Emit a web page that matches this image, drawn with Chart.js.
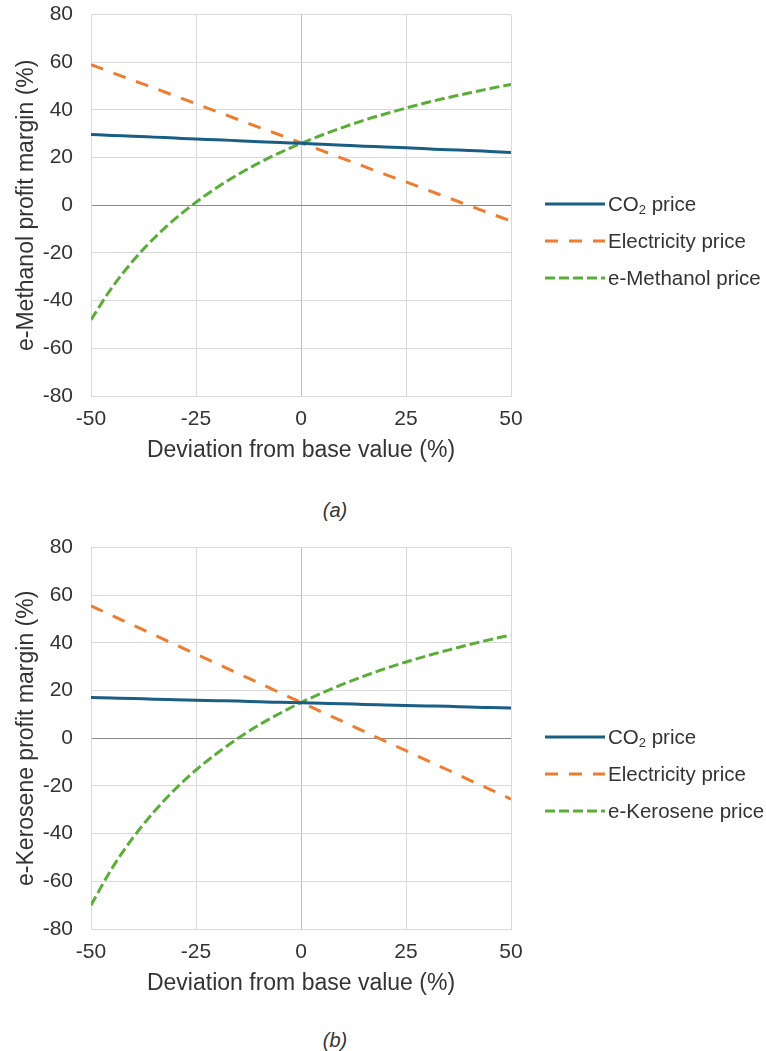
<!DOCTYPE html>
<html>
<head>
<meta charset="utf-8">
<script src="https://cdn.jsdelivr.net/npm/chart.js@4.4.1/dist/chart.umd.min.js"></script>
<style>
  body { margin: 0; background: #fff; font-family: "Liberation Sans", Arial, sans-serif; color: #333; }
  .panel { position: absolute; left: 0; width: 766px; height: 486px; }
  .panel canvas { position: absolute; left: 0; top: 0; }
  .legend .row { position: absolute; left: 545px; height: 24px; line-height: 24px; font-size: 20.5px; white-space: nowrap; }
  .legend svg { position: absolute; left: 0; top: 9px; }
  .legend span { position: absolute; left: 63px; top: 0; }
  .legend sub { font-size: 13px; vertical-align: -3px; line-height: 0; }
  .caption { position: absolute; left: 300px; width: 70px; text-align: center; font-size: 20px; font-style: italic; line-height: 24px; }
</style>
</head>
<body>

<div class="panel" style="top:-16px">
  <canvas id="chartA" width="766" height="486"></canvas>
  <div class="legend" id="legendA"></div>
</div>
<div class="caption" style="top:498px">(a)</div>

<div class="panel" style="top:517px">
  <canvas id="chartB" width="766" height="486"></canvas>
  <div class="legend" id="legendB"></div>
</div>
<div class="caption" style="top:1028px">(b)</div>

<script>
// deviation from base value (%)
const deviation = [-50, -45, -40, -35, -30, -25, -20, -15, -10, -5, 0, 5, 10, 15, 20, 25, 30, 35, 40, 45, 50];

// (a) e-Methanol profit margin (%)
const methanolCO2 = [29.7, 29.3, 29.0, 28.6, 28.2, 27.8, 27.5, 27.1, 26.7, 26.3, 26.0, 25.6, 25.2, 24.8, 24.5, 24.1, 23.7, 23.3, 23.0, 22.6, 22.2];
const methanolElectricity = [59.0, 55.7, 52.4, 49.2, 45.9, 42.6, 39.3, 36.0, 32.7, 29.5, 26.2, 22.9, 19.6, 16.3, 13.0, 9.8, 6.5, 3.2, -0.1, -3.4, -6.6];
const methanolPrice = [-48.0, -34.5, -23.3, -13.8, -5.7, 1.3, 7.5, 12.9, 17.8, 22.1, 26.0, 29.5, 32.7, 35.7, 38.3, 40.8, 43.1, 45.2, 47.1, 49.0, 50.7];

// (b) e-Kerosene profit margin (%)
const keroseneCO2 = [17.1, 16.9, 16.7, 16.4, 16.2, 16.0, 15.8, 15.6, 15.3, 15.1, 14.9, 14.7, 14.5, 14.2, 14.0, 13.8, 13.6, 13.4, 13.1, 12.9, 12.7];
const keroseneElectricity = [55.6, 51.5, 47.5, 43.4, 39.4, 35.3, 31.3, 27.2, 23.2, 19.1, 15.1, 11.0, 7.0, 2.9, -1.2, -5.2, -9.3, -13.3, -17.4, -21.4, -25.5];
const kerosenePrice = [-70.0, -54.5, -41.7, -30.8, -21.4, -13.3, -6.3, 0.0, 5.6, 10.5, 15.0, 19.0, 22.7, 26.1, 29.2, 32.0, 34.6, 37.0, 39.3, 41.4, 43.3];

const xTicks = [-50, -25, 0, 25, 50];
const yTicks = [-80, -60, -40, -20, 0, 20, 40, 60, 80];

const FONT = '"Liberation Sans", Arial, sans-serif';
const TEXT = '#333333';
const GRID = '#d9d9d9';

const seriesStyle = [
  { color: '#1b5e84', dash: [] },
  { color: '#ed7d31', dash: [13, 11] },
  { color: '#5aae38', dash: [10, 4] },
];
const legendY = [220, 257, 294];

function toPoints(values) {
  return values.map((v, i) => ({ x: deviation[i], y: v }));
}

function makeChart(id, yTitle, series) {
  const datasets = series.map((s, i) => ({
    label: s.label,
    data: toPoints(s.values),
    borderColor: seriesStyle[i].color,
    borderDash: seriesStyle[i].dash,
    borderWidth: 3,
    pointRadius: 0,
    fill: false,
    cubicInterpolationMode: 'monotone',
  }));

  return new Chart(document.getElementById(id), {
    type: 'line',
    data: { datasets },
    options: {
      responsive: false,
      animation: false,
      layout: { padding: { top: 0, left: 0, right: 255, bottom: 0 } },
      plugins: { legend: { display: false }, tooltip: { enabled: false } },
      scales: {
        x: {
          type: 'linear',
          min: xTicks[0],
          max: xTicks[xTicks.length - 1],
          afterBuildTicks: (scale) => { scale.ticks = xTicks.map(v => ({ value: v })); },
          afterFit: (scale) => { scale.height = 74; },
          ticks: { padding: 11, color: TEXT, font: { family: FONT, size: 21 } },
          grid: {
            drawTicks: false,
            color: (ctx) => (ctx.tick && ctx.tick.value === 0 ? '#bfbfbf' : GRID),
          },
          border: { color: GRID },
          title: {
            display: true,
            text: 'Deviation from base value (%)',
            color: TEXT,
            font: { family: FONT, size: 23 },
            padding: { top: 0, bottom: 6 },
          },
        },
        y: {
          min: yTicks[0],
          max: yTicks[yTicks.length - 1],
          afterBuildTicks: (scale) => { scale.ticks = yTicks.map(v => ({ value: v })); },
          afterFit: (scale) => { scale.width = 91; },
          ticks: { padding: 18, color: TEXT, font: { family: FONT, size: 21 } },
          grid: {
            drawTicks: false,
            color: (ctx) => (ctx.tick && ctx.tick.value === 0 ? '#8c8c8c' : GRID),
          },
          border: { color: GRID },
          title: {
            display: true,
            text: yTitle,
            color: TEXT,
            font: { family: FONT, size: 23 },
            padding: { top: 13, bottom: 0 },
          },
        },
      },
    },
  });
}

function buildLegend(id, labels) {
  const el = document.getElementById(id);
  labels.forEach((label, i) => {
    const st = seriesStyle[i];
    const row = document.createElement('div');
    row.className = 'row';
    row.style.top = (legendY[i] - 12) + 'px';
    row.innerHTML =
      '<svg width="60" height="6"><line x1="0" y1="3" x2="60" y2="3" stroke="' + st.color +
      '" stroke-width="3" stroke-dasharray="' + (st.dash.length ? st.dash.join(' ') : 'none') + '"/></svg>' +
      '<span>' + label + '</span>';
    el.appendChild(row);
  });
}

makeChart('chartA', 'e-Methanol profit margin (%)', [
  { label: 'CO2 price', values: methanolCO2 },
  { label: 'Electricity price', values: methanolElectricity },
  { label: 'e-Methanol price', values: methanolPrice },
]);
buildLegend('legendA', ['CO<sub>2</sub> price', 'Electricity price', 'e-Methanol price']);

makeChart('chartB', 'e-Kerosene profit margin (%)', [
  { label: 'CO2 price', values: keroseneCO2 },
  { label: 'Electricity price', values: keroseneElectricity },
  { label: 'e-Kerosene price', values: kerosenePrice },
]);
buildLegend('legendB', ['CO<sub>2</sub> price', 'Electricity price', 'e-Kerosene price']);
</script>
</body>
</html>
